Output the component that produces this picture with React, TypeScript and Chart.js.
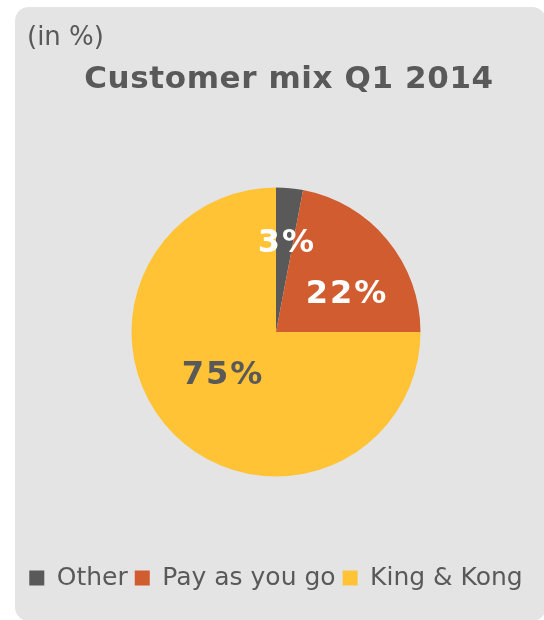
import React, { useEffect, useRef } from "react";
import { Chart, registerables } from "chart.js";

Chart.register(...registerables);

const categories = ["Other", "Pay as you go", "King & Kong"];
const values = [3, 22, 75];
const labelTexts = ["3%", "22%", "75%"];
const subtitleText = "(in %)";
const titleText = "Customer mix Q1 2014";

const sliceColors = ["#595959", "#D05C30", "#FFC335"];
const labelColors = ["#FFFFFF", "#FFFFFF", "#595959"];
// label placement styling: radius fraction and angular shift (degrees)
const labelRadiusFrac = [0.637, 0.56, 0.465];
const labelAngleShift = [0.8, 9.5, 8.5];

const TEXT_GREY = "#595959";
const FONT = "'DejaVu Sans', Verdana, sans-serif";

const headingPlugin = {
  id: "headingPlugin",
  afterDraw(chart: any) {
    const ctx = chart.ctx;
    ctx.save();
    ctx.fillStyle = TEXT_GREY;
    ctx.textBaseline = "alphabetic";
    ctx.font = `26px ${FONT}`;
    ctx.textAlign = "left";
    ctx.fillText(subtitleText, 27, 45);
    ctx.font = `bold 31px ${FONT}`;
    ctx.textAlign = "center";
    try { (ctx as any).letterSpacing = "0.6px"; } catch (e) {}
    ctx.fillText(titleText, 289, 88);
    try { (ctx as any).letterSpacing = "0px"; } catch (e) {}
    ctx.restore();
  },
};

const sliceLabelPlugin = {
  id: "sliceLabelPlugin",
  afterDatasetsDraw(chart: any) {
    const ctx = chart.ctx;
    const meta = chart.getDatasetMeta(0);
    ctx.save();
    ctx.font = `bold 32px ${FONT}`;
    ctx.textAlign = "center";
    ctx.textBaseline = "alphabetic";
    try { (ctx as any).letterSpacing = "2px"; } catch (e) {}
    meta.data.forEach((arc: any, i: number) => {
      const p = arc.getProps(["x", "y", "startAngle", "endAngle", "outerRadius"], true);
      const mid = (p.startAngle + p.endAngle) / 2 + (labelAngleShift[i] * Math.PI) / 180;
      const r = p.outerRadius * labelRadiusFrac[i];
      const cx = p.x + Math.cos(mid) * r + 1;
      const cy = p.y + Math.sin(mid) * r;
      ctx.fillStyle = labelColors[i];
      ctx.fillText(labelTexts[i], cx, cy + 32 * 0.365);
    });
    ctx.restore();
  },
};

export default function App() {
  const canvasRef = useRef<HTMLCanvasElement | null>(null);

  useEffect(() => {
    const canvas = canvasRef.current;
    if (!canvas) return;
    const chart = new Chart(canvas, {
      type: "pie",
      data: {
        labels: categories,
        datasets: [
          {
            data: values,
            backgroundColor: sliceColors,
            borderWidth: 0,
            radius: 144.5,
          } as any,
        ],
      },
      options: {
        responsive: false,
        animation: false,
        devicePixelRatio: 1,
        layout: {
          padding: { top: 105.5, bottom: 19.5, left: 8, right: 0 },
        },
        plugins: {
          title: { display: false },
          tooltip: { enabled: false },
          legend: {
            display: true,
            position: "bottom",
            labels: {
              boxWidth: 15,
              boxHeight: 15,
              padding: 7,
              color: TEXT_GREY,
              font: { family: FONT, size: 25 },
            },
          },
        },
      } as any,
      plugins: [headingPlugin, sliceLabelPlugin],
    });
    return () => chart.destroy();
  }, []);

  return (
    <div
      style={{
        position: "fixed",
        left: 0,
        top: 0,
        width: 544,
        height: 620,
        background: "#ffffff",
        overflow: "hidden",
      }}
    >
      <div
        style={{
          position: "absolute",
          left: 15,
          top: 7,
          width: 531,
          height: 614,
          borderRadius: 14,
          background: "#E4E4E4",
        }}
      />
      <canvas
        ref={canvasRef}
        width={544}
        height={620}
        style={{ position: "absolute", left: 0, top: 0, width: 544, height: 620 }}
      />
    </div>
  );
}
